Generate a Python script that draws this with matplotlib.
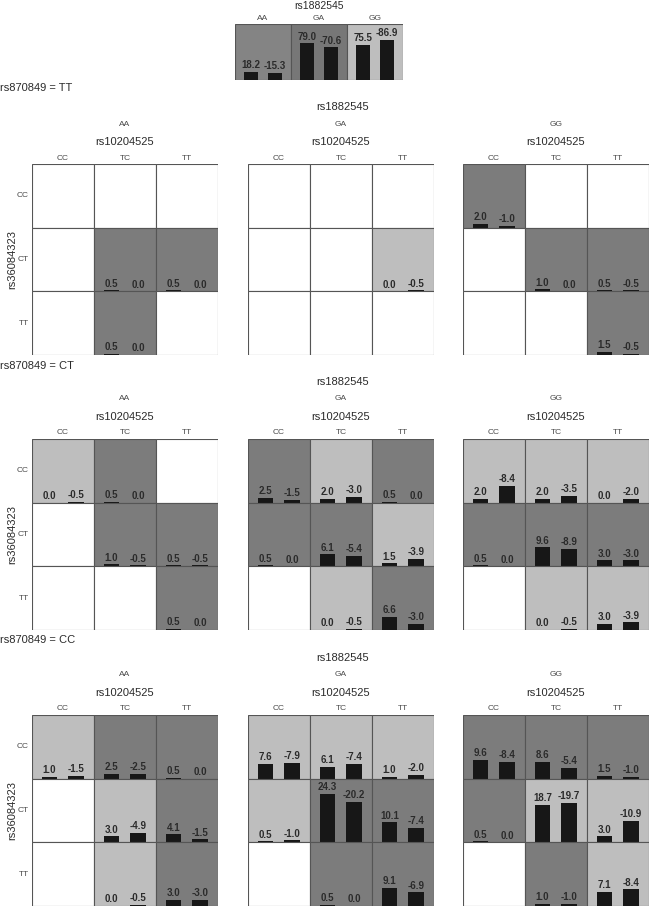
import matplotlib
matplotlib.use("Agg")
import matplotlib.pyplot as plt
from matplotlib.patches import Rectangle

plt.rcParams['font.family'] = ['Liberation Sans', 'DejaVu Sans']

# ---------------- data ----------------
section_labels = ['TT', 'CT', 'CC']          # rs870849
panel_genotypes = ['AA', 'GA', 'GG']         # rs1882545
col_labels = ['CC', 'TC', 'TT']              # rs10204525
row_labels = ['CC', 'CT', 'TT']              # rs36084323

# top summary panel (rs1882545)
top_up = [18.2, 79.0, 75.5]
top_down = [-15.3, -70.6, -86.9]
top_shade = [3, 4, 1]

# shade codes: 0 white, 1 light, 2 dark
shade_TT = [
    [[0, 0, 0], [0, 2, 2], [0, 2, 0]],
    [[0, 0, 0], [0, 0, 1], [0, 0, 0]],
    [[2, 0, 0], [0, 2, 2], [0, 0, 2]],
]
up_TT = [
    [[None, None, None], [None, 0.5, 0.5], [None, 0.5, None]],
    [[None, None, None], [None, None, 0.0], [None, None, None]],
    [[2.0, None, None], [None, 1.0, 0.5], [None, None, 1.5]],
]
down_TT = [
    [[None, None, None], [None, 0.0, 0.0], [None, 0.0, None]],
    [[None, None, None], [None, None, -0.5], [None, None, None]],
    [[-1.0, None, None], [None, 0.0, -0.5], [None, None, -0.5]],
]

shade_CT = [
    [[1, 2, 0], [0, 2, 2], [0, 0, 2]],
    [[2, 1, 2], [2, 2, 1], [0, 1, 2]],
    [[1, 1, 1], [2, 2, 2], [0, 1, 1]],
]
up_CT = [
    [[0.0, 0.5, None], [None, 1.0, 0.5], [None, None, 0.5]],
    [[2.5, 2.0, 0.5], [0.5, 6.1, 1.5], [None, 0.0, 6.6]],
    [[2.0, 2.0, 0.0], [0.5, 9.6, 3.0], [None, 0.0, 3.0]],
]
down_CT = [
    [[-0.5, 0.0, None], [None, -0.5, -0.5], [None, None, 0.0]],
    [[-1.5, -3.0, 0.0], [0.0, -5.4, -3.9], [None, -0.5, -3.0]],
    [[-8.4, -3.5, -2.0], [0.0, -8.9, -3.0], [None, -0.5, -3.9]],
]

shade_CC = [
    [[1, 2, 2], [0, 1, 2], [0, 1, 2]],
    [[1, 1, 1], [1, 2, 2], [0, 2, 2]],
    [[2, 2, 2], [2, 1, 1], [0, 2, 1]],
]
up_CC = [
    [[1.0, 2.5, 0.5], [None, 3.0, 4.1], [None, 0.0, 3.0]],
    [[7.6, 6.1, 1.0], [0.5, 24.3, 10.1], [None, 0.5, 9.1]],
    [[9.6, 8.6, 1.5], [0.5, 18.7, 3.0], [None, 1.0, 7.1]],
]
down_CC = [
    [[-1.5, -2.5, 0.0], [None, -4.9, -1.5], [None, -0.5, -3.0]],
    [[-7.9, -7.4, -2.0], [-1.0, -20.2, -7.4], [None, 0.0, -6.9]],
    [[-8.4, -5.4, -1.0], [0.0, -19.7, -10.9], [None, -1.0, -8.4]],
]

# ---------------- style ----------------
W, H = 650, 907
shade_colors = {0: '#ffffff', 1: '#bebebe', 2: '#7c7c7c', 3: '#848484', 4: '#777777'}
edge_col = '#555555'
bar_col = '#171717'
txt_col = '#2b2b2b'
lab_col = '#4a4a4a'
ROW_UNITS = 32.0      # value units per grid row
TOP_UNITS = 121.0     # value units of top panel height
BAR_W = 0.245
BAR_X = (0.28, 0.71)

fig = plt.figure(figsize=(W / 100, H / 100), dpi=100)


def px_axes(x0, y0, w, h):
    ax = fig.add_axes([x0 / W, 1 - (y0 + h) / H, w / W, h / H])
    ax.set_axis_off()
    return ax


def ftext(x, y, s, **kw):
    fig.text(x / W, 1 - y / H, s, **kw)


def draw_cell_bars(ax, cx, base, vals):
    for k, v in enumerate(vals):
        if v is None:
            continue
        hgt = abs(v)
        ax.bar(cx + BAR_X[k], hgt, width=BAR_W, bottom=base, color=bar_col,
               linewidth=0, align='center')
        ax.annotate(f"{v:.1f}", (cx + BAR_X[k], base + hgt), xytext=(0, 1.2),
                    textcoords='offset points', ha='center', va='bottom',
                    fontsize=7, fontweight='bold', color=txt_col)


# ---------------- top panel ----------------
tx0, ty0, tw, th = 235, 24, 168, 56
ax = px_axes(tx0, ty0, tw, th)
ax.set_xlim(0, 3)
ax.set_ylim(0, TOP_UNITS)
for i in range(3):
    ax.add_patch(Rectangle((i, 0), 1, TOP_UNITS, facecolor=shade_colors[top_shade[i]],
                           edgecolor=edge_col, linewidth=0.8))
    draw_cell_bars(ax, i, 0, [top_up[i], top_down[i]])
    ftext(tx0 + (i + 0.5) * tw / 3, ty0 - 6, panel_genotypes[i], ha='center', va='center',
          fontsize=6, color=lab_col)
ftext(tx0 + tw / 2, 6, 'rs1882545', ha='center', va='center', fontsize=7.5, color=txt_col)

# ---------------- grids ----------------
panel_x = [32, 248, 463]
panel_w = 186
grid_top = [164, 439, 715]
grid_h = 191
section_label_y = [88, 366, 640]
shades = [shade_TT, shade_CT, shade_CC]
ups = [up_TT, up_CT, up_CC]
downs = [down_TT, down_CT, down_CC]

for s, sec in enumerate(section_labels):
    gt = grid_top[s]
    ftext(0, section_label_y[s], f'rs870849 = {sec}', ha='left', va='center',
          fontsize=8, color=txt_col)
    ftext(panel_x[1] + panel_w / 2 + 2, gt - 57, 'rs1882545', ha='center', va='center',
          fontsize=8, color=txt_col)
    # row axis labels
    ftext(12, gt + grid_h / 2, 'rs36084323', ha='center', va='center', rotation=90,
          fontsize=8, color=txt_col)
    for r, rl in enumerate(row_labels):
        ftext(29, gt + (r + 0.5) * grid_h / 3, rl, ha='right', va='center',
              fontsize=6, color=lab_col)
    for p, gen in enumerate(panel_genotypes):
        px = panel_x[p]
        ftext(px + panel_w / 2, gt - 40, gen, ha='center', va='center', fontsize=6, color=lab_col)
        ftext(px + panel_w / 2, gt - 22, 'rs10204525', ha='center', va='center',
              fontsize=8, color=txt_col)
        for c, cl in enumerate(col_labels):
            ftext(px + (c + 0.5) * panel_w / 3, gt - 6, cl, ha='center', va='center',
                  fontsize=6, color=lab_col)
        ax = px_axes(px, gt, panel_w, grid_h)
        ax.set_xlim(0, 3)
        ax.set_ylim(0, 3 * ROW_UNITS)
        for r in range(3):
            base = (2 - r) * ROW_UNITS
            for c in range(3):
                ax.add_patch(Rectangle((c, base), 1, ROW_UNITS,
                                       facecolor=shade_colors[shades[s][p][r][c]],
                                       edgecolor=edge_col, linewidth=0.8))
                draw_cell_bars(ax, c, base, [ups[s][p][r][c], downs[s][p][r][c]])

fig.savefig('out.png', dpi=100)
